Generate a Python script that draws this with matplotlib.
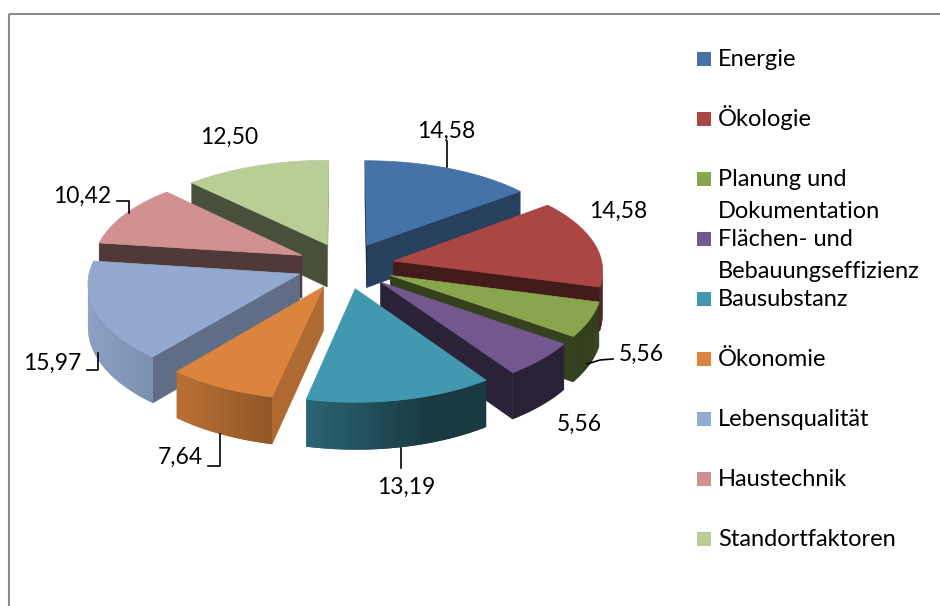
import numpy as np
import matplotlib.pyplot as plt
from matplotlib.patches import Polygon, Rectangle
from matplotlib.colors import to_rgb

plt.rcParams['font.family'] = ['Lato', 'DejaVu Sans']

categories = ["Energie", "Ökologie", "Planung und\nDokumentation", "Flächen- und\nBebauungseffizienz",
              "Bausubstanz", "Ökonomie", "Lebensqualität", "Haustechnik", "Standortfaktoren"]
values = [14.58, 14.58, 5.56, 5.56, 13.19, 7.64, 15.97, 10.42, 12.50]
colors = ["#4572A7", "#AA4643", "#89A54E", "#71588F", "#4198AF",
          "#DB843D", "#93A9CF", "#D09190", "#B9CD96"]

# where Excel put the value labels (pixel positions) and their leader lines
label_xy = [(446, 138), (618, 218), (641, 361), (579, 431), (406, 494),
            (180, 464), (52, 370), (82, 203), (229, 144)]
leaders = {
    0: [(447, 141), (447, 167)],
    2: [(613, 359), (600, 360), (587, 364)],
    4: [(401, 448), (401, 468)],
    5: [(208, 466), (220, 466), (220, 434)],
    6: [(87, 370), (98, 370), (98, 353)],
    7: [(117, 201), (129, 201), (129, 213)],
}

# 3d look of the pie
R, EXPL, DEPTH = 209.0, 49.0, 43.0
CX, CY = 345.5, 265.5
TILT, BEND, PERSP = 0.4726, 0.000231, 0.0004


def project(X, Y, bottom=False):
    X = np.asarray(X, float)
    Y = np.asarray(Y, float)
    f = 1 - PERSP * Y
    sx = CX + X * f
    sy = CY - TILT * Y + BEND * Y ** 2 + (DEPTH * f if bottom else 0)
    return np.column_stack([sx, sy])


def area(p):  # signed area, y up
    x, y = p[:, 0], -p[:, 1]
    return 0.5 * np.sum(x * np.roll(y, -1) - np.roll(x, -1) * y)


def shade(c, k):
    return tuple(np.clip(np.array(to_rgb(c)) * k, 0, 1))


L_side = np.array([0.958, 0.287])
L_rim = np.array([-0.95, -0.31])
L_rim = L_rim / np.linalg.norm(L_rim)

fig = plt.figure(figsize=(9.4, 6.06), dpi=100)
ax = fig.add_axes([0, 0, 1, 1])
ax.set_xlim(0, 940)
ax.set_ylim(606, 0)
ax.axis('off')

# chart frame
ax.plot([9, 940], [14, 14], color='#8c8c8c', lw=1.5, solid_capstyle='butt')
ax.plot([9, 9], [14, 606], color='#8c8c8c', lw=1.5, solid_capstyle='butt')

edges = np.concatenate([[0], np.cumsum(values)]) / np.sum(values) * 360
slices = []
for i in range(len(values)):
    t1, t2 = edges[i], edges[i + 1]
    tm = np.radians((t1 + t2) / 2)
    slices.append((EXPL * np.cos(tm), EXPL * np.sin(tm), i, t1, t2))
slices.sort(key=lambda s: -s[0])  # far slices first

z = 2
for ay0, ax0, i, t1, t2 in slices:
    th = np.radians(np.linspace(t1, t2, max(int((t2 - t1) * 2), 2) + 1))
    ox = ax0 + R * np.sin(th)
    oy = ay0 + R * np.cos(th)
    top = project(ox, oy)
    bot = project(ox, oy, True)
    at = project([ax0], [ay0])[0]
    ab = project([ax0], [ay0], True)[0]

    # flat side faces
    n2 = np.array([np.cos(th[-1]), -np.sin(th[-1])])
    n1 = np.array([-np.cos(th[0]), np.sin(th[0])])
    for poly, n in [(np.array([ab, bot[-1], top[-1], at]), n2),
                    (np.array([bot[0], ab, at, top[0]]), n1)]:
        if area(poly) > 0:
            c = shade(colors[i], 0.39 + 0.47 * max(0, n @ L_side))
            ax.add_patch(Polygon(poly, closed=True, fc=c, ec=c, lw=0.5, zorder=z))

    # curved outer rim, small strips that overlap the next one
    m = len(th) - 1
    for j in range(m):
        q = np.array([bot[j + 1], bot[j], top[j], top[j + 1]])
        if area(q) <= 0:
            continue
        tc = (th[j] + th[j + 1]) / 2
        n = np.array([np.sin(tc), np.cos(tc)])
        c = shade(colors[i], 0.38 + 0.55 * max(0, n @ L_rim))
        k2 = min(j + 2, m)
        q = np.array([bot[k2], bot[j], top[j], top[k2]]) if k2 > j + 1 else q
        ax.add_patch(Polygon(q, closed=True, fc=c, ec='none', lw=0, zorder=z))

    ax.add_patch(Polygon(np.vstack([at, top]), closed=True, fc=colors[i], ec=colors[i],
                         lw=0.5, zorder=z + 1))
    z += 2

# value labels
for i, v in enumerate(values):
    x, y = label_xy[i]
    ax.text(x, y, f"{v:.2f}".replace(".", ","), ha='center', va='baseline',
            fontsize=16.5, color='black', zorder=50)
for i, pts in leaders.items():
    xs, ys = zip(*pts)
    ax.plot(xs, ys, color='black', lw=1.2, zorder=49)

# legend
for i, name in enumerate(categories):
    y0 = 58.5 + 60 * i
    ax.add_patch(Rectangle((697, y0 - 7), 14, 14, fc=colors[i], ec='none'))
    for k, line in enumerate(name.split("\n")):
        ax.text(718, y0 + 7.5 + 32 * k, line, fontsize=17, ha='left', va='baseline', color='black')

fig.savefig("out.png", dpi=100)
